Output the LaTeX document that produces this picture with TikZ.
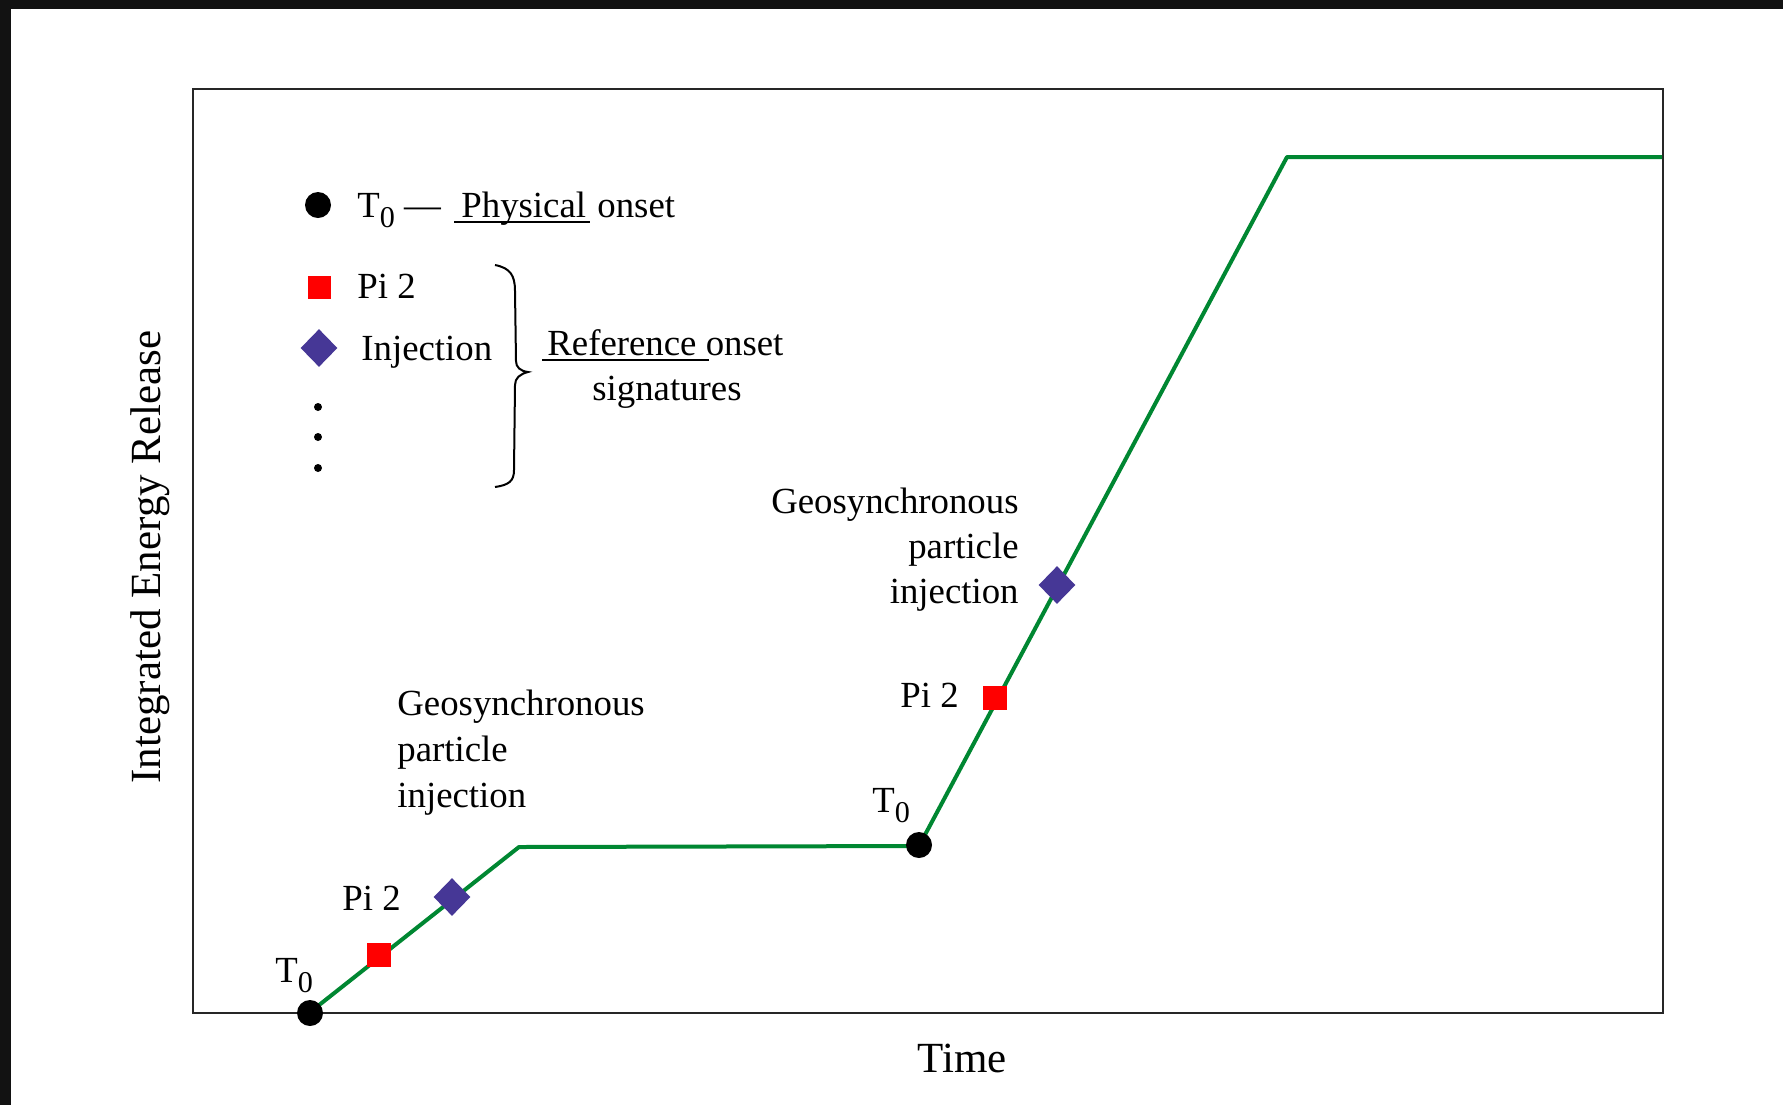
\documentclass[tikz,border=0pt]{standalone}
\usepackage{fontspec}
\setmainfont{Liberation Serif}
\usetikzlibrary{shapes.geometric}
\definecolor{lineGreen}{RGB}{0,135,50}
\definecolor{injBlue}{RGB}{70,55,150}
\definecolor{pitwoRed}{RGB}{255,0,0}
\newcommand\Tzero{T\raisebox{-5pt}{\scalebox{0.82}{0}}}
\begin{document}
\begin{tikzpicture}[x=0.5pt,y=-0.5pt,
  txt/.style={inner sep=0pt, font=\fontsize{18.4}{22}\selectfont},
  axislbl/.style={inner sep=0pt, font=\fontsize{21.5}{26}\selectfont},
  onsetdot/.style={circle, fill=black, inner sep=0pt, minimum size=13pt},
  pisq/.style={rectangle, fill=pitwoRed, inner sep=0pt, minimum size=11.7pt},
  injdia/.style={diamond, fill=injBlue, inner sep=0pt, minimum width=18.5pt, minimum height=19pt},
  curve/.style={draw=lineGreen, line width=2pt, line join=round},
  smalldot/.style={circle, fill=black, inner sep=0pt, minimum size=4pt},
  plotframe/.style={draw=black!85, line width=1.3pt},
  uline/.style={draw=black, line width=1pt},
  bracestyle/.style={draw=black, line width=1pt}
]
\useasboundingbox (0,0) rectangle (1783,1105);
\fill[white] (0,0) rectangle (1783,1105);
% outer black bands
\fill[black!93] (0,0) rectangle (1783,9);
\fill[black!93] (0,0) rectangle (11,1105);
% plot frame
\draw[plotframe] (193,89) rectangle (1663,1013);

% curve
\coordinate (a0) at (309,1013);
\coordinate (a1) at (519,847);
\coordinate (a2) at (919,846);
\coordinate (a3) at (1287,157);
\coordinate (a4) at (1662,157);
\draw[curve] (a0) -- (a1) -- (a2) -- (a3) -- (a4);

% markers on curve
\node[onsetdot] (t0a) at (310,1013) {};
\node[pisq] (pia) at (379,955) {};
\node[injdia] (inja) at (452,897) {};
\node[onsetdot] (t0b) at (919,845) {};
\node[pisq] (pib) at (995,698) {};
\node[injdia] (injb) at (1057,585) {};

% lower labels
\node[txt, anchor=base west] (lt0a) at (275,982) {\Tzero};
\node[txt, anchor=base west] (lpia) at (342,910) {Pi 2};
\node[txt, anchor=base west] (lgeoa1) at (397,715) {Geosynchronous};
\node[txt, anchor=base west] (lgeoa2) at (397,761) {particle};
\node[txt, anchor=base west] (lgeoa3) at (397,807) {injection};

% upper labels
\node[txt, anchor=base east] (lgeob1) at (1019,513) {Geosynchronous};
\node[txt, anchor=base east] (lgeob2) at (1019,558) {particle};
\node[txt, anchor=base east] (lgeob3) at (1019,603) {injection};
\node[txt, anchor=base west] (lpib) at (900,707) {Pi 2};
\node[txt, anchor=base west] (lt0b) at (872,812) {\Tzero};

% legend
\node[onsetdot] (legt0) at (318,205) {};
\node[txt, anchor=base west] (legt0txt) at (357,217) {\Tzero\ —};
\node[txt, anchor=base west] (legphys) at (461,217) {Physical};
\node[txt, anchor=base west] (legons) at (597,217) {onset};
\draw[uline] (454,222) -- (590,222);

\node[pisq] (legpi) at (319.5,287.5) {};
\node[txt, anchor=base west] (legpitxt) at (357,298) {Pi 2};
\node[injdia] (leginj) at (319,348) {};
\node[txt, anchor=base west] (leginjtxt) at (361,360) {Injection};
\node[smalldot] (dot1) at (318,407) {};
\node[smalldot] (dot2) at (318,437) {};
\node[smalldot] (dot3) at (318,468) {};

\draw[bracestyle] (495,265) .. controls (510,268) and (515,275) .. (515,291)
  -- (516,361) .. controls (516,367) and (520,371) .. (528,372)
  .. controls (520,374) and (515,378) .. (515,385)
  -- (514,470) .. controls (514,481) and (509,485) .. (495,487);

\node[txt, anchor=base west] (legref) at (547,355) {Reference onset};
\draw[uline] (542,360) -- (709,360);
\node[txt, anchor=base] (legsig) at (667,400) {signatures};

% axis labels
\node[axislbl, rotate=90, anchor=center] (ylab) at (150,557) {Integrated Energy Release};
\node[axislbl, anchor=base] (xlab) at (962,1072) {Time};
\end{tikzpicture}
\end{document}
